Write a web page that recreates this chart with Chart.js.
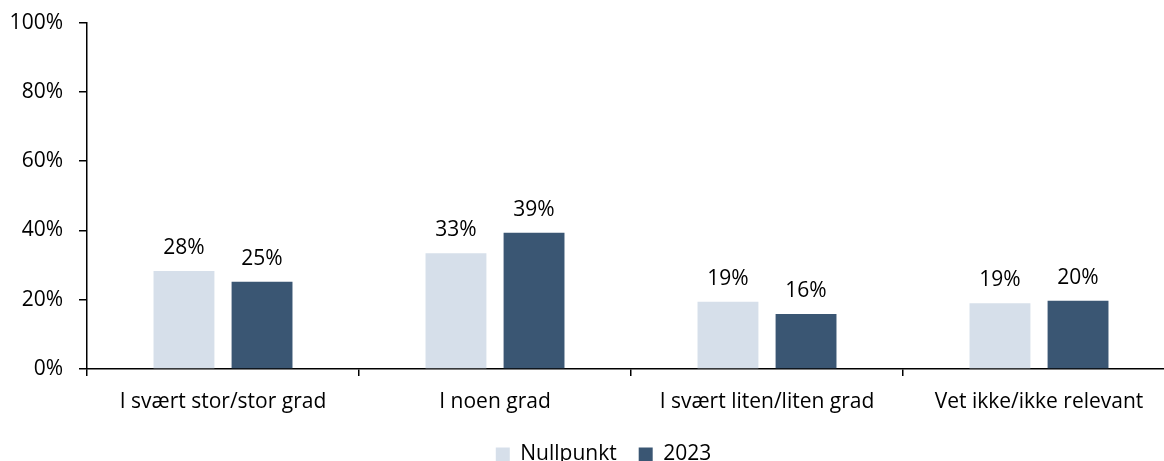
<!DOCTYPE html>
<html>
<head>
<meta charset="utf-8">
<script src="https://cdn.jsdelivr.net/npm/chart.js@4.4.1/dist/chart.umd.min.js"></script>
<style>
  html, body { margin: 0; padding: 0; background: #fff; }
  #wrap { width: 1164px; height: 461px; overflow: hidden; position: relative; }
  canvas { display: block; margin-top: -6px; }
</style>
</head>
<body>
<div id="wrap"><canvas id="chart" width="1175" height="481"></canvas></div>
<script>
const categories = ['I svært stor/stor grad', 'I noen grad', 'I svært liten/liten grad', 'Vet ikke/ikke relevant'];
const seriesNames = ['Nullpunkt', '2023'];
const nullpunkt = [28.3, 33.4, 19.4, 19.0];
const year2023 = [25.2, 39.3, 15.9, 19.7];
const yTicks = [0, 20, 40, 60, 80, 100];

const FONT = '"Open Sans", Carlito, Calibri, sans-serif';
const SIZE = 21;
const LIGHT = '#D6DFEA';
const DARK = '#3A5673';

// Writes the rounded percentage above every bar
const valueLabels = {
  id: 'valueLabels',
  afterDatasetsDraw(chart) {
    const ctx = chart.ctx;
    ctx.save();
    ctx.font = SIZE + 'px ' + FONT;
    ctx.fillStyle = '#000';
    ctx.textAlign = 'center';
    ctx.textBaseline = 'alphabetic';
    chart.data.datasets.forEach((ds, i) => {
      chart.getDatasetMeta(i).data.forEach((bar, j) => {
        ctx.fillText(Math.round(ds.data[j]) + '%', bar.x, bar.y - 17);
      });
    });
    ctx.restore();
  }
};

// Nudges the legend a little to the right of the canvas centre
const legendShift = {
  id: 'legendShift',
  afterLayout(chart) {
    if (chart.legend) {
      chart.legend.left += 16;
      chart.legend.right += 16;
    }
  }
};

new Chart(document.getElementById('chart'), {
  type: 'bar',
  data: {
    labels: categories,
    datasets: [
      { label: seriesNames[0], data: nullpunkt, backgroundColor: LIGHT },
      { label: seriesNames[1], data: year2023, backgroundColor: DARK }
    ]
  },
  options: {
    responsive: false,
    animation: false,
    layout: { autoPadding: false, padding: { top: 23, left: 0, right: 0, bottom: 0 } },
    datasets: { bar: { categoryPercentage: 0.574, barPercentage: 0.78 } },
    plugins: {
      legend: {
        position: 'bottom',
        labels: {
          font: { family: FONT, size: SIZE },
          color: '#000',
          boxWidth: 14,
          boxHeight: 14,
          padding: 22
        }
      },
      tooltip: { enabled: false }
    },
    scales: {
      x: {
        grid: { display: true, drawOnChartArea: false, offset: true, color: '#000', tickLength: 7, lineWidth: 1.5 },
        border: { color: '#000', width: 1.5 },
        ticks: { font: { family: FONT, size: SIZE }, color: '#000', padding: 13, maxRotation: 0 },
        afterFit(scale) { scale.height = 53; }
      },
      y: {
        min: 0,
        max: 100,
        afterBuildTicks(scale) { scale.ticks = yTicks.map(v => ({ value: v })); },
        grid: { display: true, drawOnChartArea: false, color: '#000', tickLength: 8, lineWidth: 1.5 },
        border: { color: '#000', width: 1.5 },
        ticks: { font: { family: FONT, size: SIZE }, color: '#000', padding: 16, callback: v => v + '%' },
        afterFit(scale) { scale.width = 87; }
      }
    }
  },
  plugins: [valueLabels, legendShift]
});
</script>
</body>
</html>
